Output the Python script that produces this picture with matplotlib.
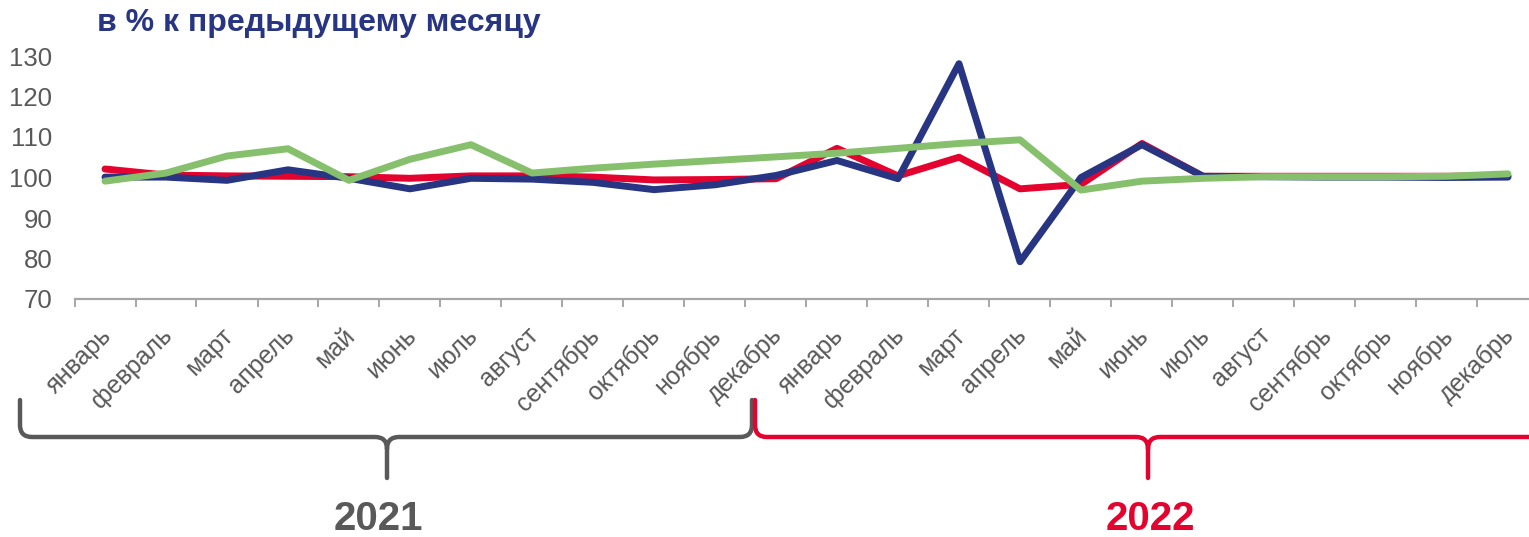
import matplotlib
matplotlib.use("Agg")
import matplotlib.pyplot as plt
from matplotlib.path import Path
from matplotlib.patches import PathPatch
from matplotlib.transforms import ScaledTranslation, Affine2D
import numpy as np

plt.rcParams['font.family'] = ['Liberation Sans', 'DejaVu Sans']

months = ['январь', 'февраль', 'март', 'апрель', 'май', 'июнь', 'июль',
          'август', 'сентябрь', 'октябрь', 'ноябрь', 'декабрь']
labels = months + months
years = ['2021', '2022']

red = [102.1, 100.6, 100.4, 100.3, 100.2, 99.8, 100.4, 100.4, 100.1, 99.4, 99.5, 99.7,
       107.2, 100.4, 105.0, 97.2, 98.3, 108.4, 100.3, 100.3, 100.3, 100.3, 100.3, 100.4]
blue = [100.1, 100.1, 99.3, 101.9, 99.8, 97.2, 99.8, 99.6, 98.8, 97.0, 98.2, 100.5,
        104.2, 99.7, 128.1, 79.2, 100.0, 108.1, 100.3, 100.2, 100.1, 100.1, 100.0, 100.1]
green = [99.1, 101.1, 105.3, 107.1, 99.3, 104.5, 108.1, 101.1, 102.3, 103.3, 104.2, 105.1,
         106.0, 107.2, 108.4, 109.3, 96.9, 99.1, 99.8, 100.2, 100.2, 100.2, 100.3, 100.9]

W, H = 1529, 537
fig = plt.figure(figsize=(W / 100, H / 100), dpi=100)
# plot area in pixels: x 74.5..1538.5 (goes past right edge), y 56..299
ax = fig.add_axes([74.5 / W, (H - 299) / H, (1538.5 - 74.5) / W, (299 - 56) / H])

x = np.arange(len(labels))
lw = 5.0
ax.plot(x, red, color='#E4032E', lw=lw, solid_joinstyle='round', solid_capstyle='round', clip_on=False)
ax.plot(x, blue, color='#283583', lw=lw, solid_joinstyle='round', solid_capstyle='round', clip_on=False)
ax.plot(x, green, color='#86C06C', lw=lw, solid_joinstyle='round', solid_capstyle='round', clip_on=False)

ax.set_xlim(-0.5, len(labels) - 0.5)
ax.set_ylim(70, 130)
ax.set_yticks(range(70, 131, 10))
ax.tick_params(axis='y', length=0, pad=16, labelsize=18.5, labelcolor='#595959')

for s in ['top', 'left', 'right']:
    ax.spines[s].set_visible(False)
ax.spines['bottom'].set_color('#A6A6A6')
ax.spines['bottom'].set_linewidth(1.6)

# boundary ticks without labels, labels on the category centres
ax.set_xticks(np.arange(-0.5, len(labels), 1.0))
ax.set_xticklabels([])
ax.tick_params(axis='x', which='major', length=6, width=1.4, color='#A6A6A6', direction='out')
ax.set_xticks(x, minor=True)
ax.set_xticklabels(labels, minor=True)
ax.tick_params(axis='x', which='minor', length=0, pad=17.5, labelsize=18, labelcolor='#595959')
shift = ScaledTranslation(-6 / 100, 0, fig.dpi_scale_trans)
for t in ax.get_xticklabels(minor=True):
    t.set_rotation(45)
    t.set_ha('right')
    t.set_va('top')
    t.set_rotation_mode('anchor')
    t.set_transform(t.get_transform() + shift)

fig.text(97 / W, 1 - 23 / H, 'в % к предыдущему месяцу', fontsize=23, fontweight='bold',
         color='#283583', ha='left', va='center')

# year brackets, drawn in pixel coordinates (origin top-left)
pix = Affine2D().scale(1.0 / W, -1.0 / H).translate(0, 1) + fig.transFigure


def bracket(x0, x1, xm, color, right_up=True):
    r = 12
    verts = [(x0, 400), (x0, 437 - r), (x0, 437), (x0 + r, 437),
             (xm - r, 437), (xm, 437), (xm, 437 + r), (xm, 478),
             (xm, 437 + r), (xm, 437), (xm + r, 437)]
    codes = [Path.MOVETO, Path.LINETO, Path.CURVE3, Path.CURVE3,
             Path.LINETO, Path.CURVE3, Path.CURVE3, Path.LINETO,
             Path.MOVETO, Path.CURVE3, Path.CURVE3]
    if right_up:
        verts += [(x1 - r, 437), (x1, 437), (x1, 437 - r), (x1, 400)]
        codes += [Path.LINETO, Path.CURVE3, Path.CURVE3, Path.LINETO]
    else:
        verts += [(x1, 437)]
        codes += [Path.LINETO]
    p = PathPatch(Path(verts, codes), fill=False, edgecolor=color, lw=3.2,
                  transform=pix, capstyle='round', joinstyle='round')
    fig.add_artist(p)


bracket(20, 752, 387, '#595959', right_up=True)
bracket(755, 1540, 1148, '#E4032E', right_up=False)

fig.text(378 / W, 1 - 519 / H, years[0], fontsize=29, fontweight='bold', color='#595959',
         ha='center', va='center')
fig.text(1150 / W, 1 - 519 / H, years[1], fontsize=29, fontweight='bold', color='#E4032E',
         ha='center', va='center')

fig.savefig('out.png', dpi=100, facecolor='white')
